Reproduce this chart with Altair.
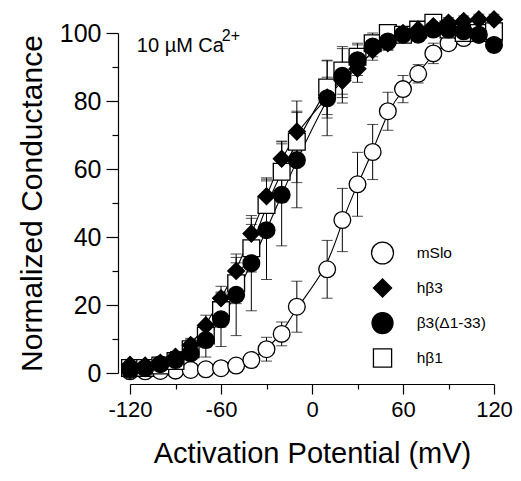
import altair as alt
import pandas as pd

# Activation potential (mV)
V = [-120, -110, -100, -90, -80, -70, -60, -50, -40, -30, -20, -10,
     10, 20, 30, 40, 50, 60, 70, 80, 90, 100, 110, 120]

SERIES = ["mSlo", "hβ3", "β3(Δ1-33)", "hβ1"]

mslo = [0.5, 0.5, 0.6, 0.7, 0.9, 1.1, 1.4, 2.2, 3.8, 7.0, 11.5, 19.5,
        30.5, 45, 55.5, 65, 77, 83.5, 88, 94, 97, 98.5, 99.5, 98]
mslo_err = [0.5, 0.5, 0.5, 0.5, 0.5, 0.5, 0.8, 1, 2, 3.5, 3.5, 7.5,
            8.5, 9.3, 9.4, 8.1, 5.6, 4, 2.7, 3, 2, 1.5, 1, 1]

hb3 = [2.4, 2.2, 3, 4.8, 8.2, 14, 22, 30, 41, 52, 63, 71,
       81, 86, 89.5, 95, 97, 100, 101, 102, 103, 103.5, 104, 104]
hb3_err = [1, 1, 1, 1.5, 2, 3, 3.5, 4, 4.5, 5, 5, 6,
           6, 5, 4, 3, 2, 1.5, 1.5, 1.5, 1.5, 1.5, 1.5, 1.5]

b3d = [0.9, 1.4, 2.6, 3.8, 5.8, 9.7, 15.8, 23, 32.3, 42, 52.4, 62.6,
       80.8, 87.4, 92, 96, 97.5, 99.5, 99.5, 101, 101, 100.5, 99.5, 96.5]
b3d_err = [0.5, 1, 1.5, 2.5, 4, 5, 8, 12, 14, 14.5, 15, 14,
           11, 8, 4.5, 3, 2.5, 2, 2, 2, 2, 2, 2, 2]

hb1 = [1.5, 1.5, 2.2, 3.5, 7, 11, 18.5, 26.4, 36.7, 49.4, 59.2, 68,
       84, 89, 93, 97, 100, 99.5, 101, 103, 101, 100, 100, 100.5]
hb1_err = [0.5, 0.5, 1, 1.5, 2, 3.5, 5, 6, 7, 8, 9, 12,
           8, 7, 4, 3, 2, 1.5, 1.5, 1.5, 1.5, 1.5, 1.5, 1.5]

# annotation text
ann_text = ["10 µM Ca", "2+"]

FONT = "Liberation Sans"

# draw order: mSlo, hβ1, hβ3, β3(Δ1-33)
rows = []
for name, vals, errs in [("mSlo", mslo, mslo_err), ("hβ1", hb1, hb1_err),
                         ("hβ3", hb3, hb3_err), ("β3(Δ1-33)", b3d, b3d_err)]:
    for v, g, e in zip(V, vals, errs):
        rows.append({"series": name, "V": v, "G": g, "err": e})
df = pd.DataFrame(rows)

xaxis = alt.Axis(
    values=list(range(-120, 121, 30)),
    offset=11,
    tickSize={"condition": {"test": "datum.value % 60 === 0", "value": 10}, "value": 5},
    labelExpr="datum.value % 60 === 0 ? '' + datum.value : ''",
    labelFontSize=22, labelPadding=5, labelFlush=False, labelOverlap=False,
    title="Activation Potential (mV)", titleFontSize=29, titlePadding=19,
)
yaxis = alt.Axis(
    values=list(range(0, 101, 10)),
    offset=12,
    tickSize={"condition": {"test": "datum.value % 20 === 0", "value": 12}, "value": 6},
    labelExpr="datum.value % 20 === 0 ? '' + datum.value : ''",
    labelFontSize=25, labelPadding=5, labelFlush=False, labelOverlap=False,
    title="Normalized Conductance", titleFontSize=30, titlePadding=12,
)
xscale = alt.Scale(domain=[-120, 120], nice=False, zero=False)
yscale = alt.Scale(domain=[0, 100], nice=False, zero=False)

X = alt.X("V:Q", scale=xscale, axis=xaxis)
Y = alt.Y("G:Q", scale=yscale, axis=yaxis)

shape_scale = alt.Scale(domain=SERIES, range=["circle", "diamond", "circle", "square"])
fill_scale = alt.Scale(domain=SERIES, range=["white", "black", "black", "white"])

base = alt.Chart(df)

lines = base.mark_line(interpolate="basis", color="black", strokeWidth=1.1).encode(
    x=X, y=Y, detail="series:N"
)

errs = base.transform_calculate(
    lo="datum.G - datum.err", hi="datum.G + datum.err"
).mark_errorbar(ticks={"size": 11, "color": "black"}, color="black", thickness=1).encode(
    x=X,
    y=alt.Y("lo:Q", scale=yscale, axis=yaxis),
    y2="hi:Q",
    detail="series:N",
)

points = base.mark_point(filled=True, stroke="black", strokeWidth=1.3, size=280, opacity=1).encode(
    x=X, y=Y,
    shape=alt.Shape("series:N", scale=shape_scale, legend=None),
    fill=alt.Fill("series:N", scale=fill_scale, legend=None),
)

# manual legend (placed in data coordinates inside the plot)
leg_df = pd.DataFrame({"series": SERIES, "row": list(range(len(SERIES))),
                       "sym": [480, 330, 440, 330]})
leg_base = alt.Chart(leg_df).transform_calculate(
    G="35.3 - datum.row * 10.3", Vs="46.5", Vt="69"
)
leg_sym = leg_base.mark_point(filled=True, stroke="black", strokeWidth=1.3, opacity=1).encode(
    x=alt.X("Vs:Q", scale=xscale, axis=xaxis),
    y=Y,
    shape=alt.Shape("series:N", scale=shape_scale, legend=None),
    fill=alt.Fill("series:N", scale=fill_scale, legend=None),
    size=alt.Size("sym:Q", scale=None, legend=None),
)
leg_txt = leg_base.mark_text(align="left", baseline="middle", font=FONT, fontSize=15.5,
                             color="black").encode(
    x=alt.X("Vt:Q", scale=xscale, axis=xaxis), y=Y, text="series:N"
)

ann_df = pd.DataFrame({"text": ann_text, "k": [0, 1]})
ann = alt.Chart(ann_df).transform_calculate(
    V="datum.k == 0 ? -115.5 : -59.5",
    G="datum.k == 0 ? 96.3 : 99.2",
    fs="datum.k == 0 ? 20 : 16",
).mark_text(align="left", baseline="middle", font=FONT, color="black").encode(
    x=X, y=Y, text="text:N", size=alt.Size("fs:Q", scale=None, legend=None)
)

chart = alt.layer(lines, errs, points, leg_sym, leg_txt, ann).properties(
    width=364, height=340,
    autosize=alt.AutoSizeParams(type="none"),
    padding={"left": 122, "top": 25, "right": 19, "bottom": 100},
).configure_view(stroke=None).configure_axis(
    grid=False, domainColor="black", tickColor="black", labelColor="black",
    titleColor="black", labelFont=FONT, titleFont=FONT, titleFontWeight="normal",
    domainWidth=1.2, tickWidth=1.2,
)

chart.save("out.html", embed_options={"renderer": "svg", "actions": False})
